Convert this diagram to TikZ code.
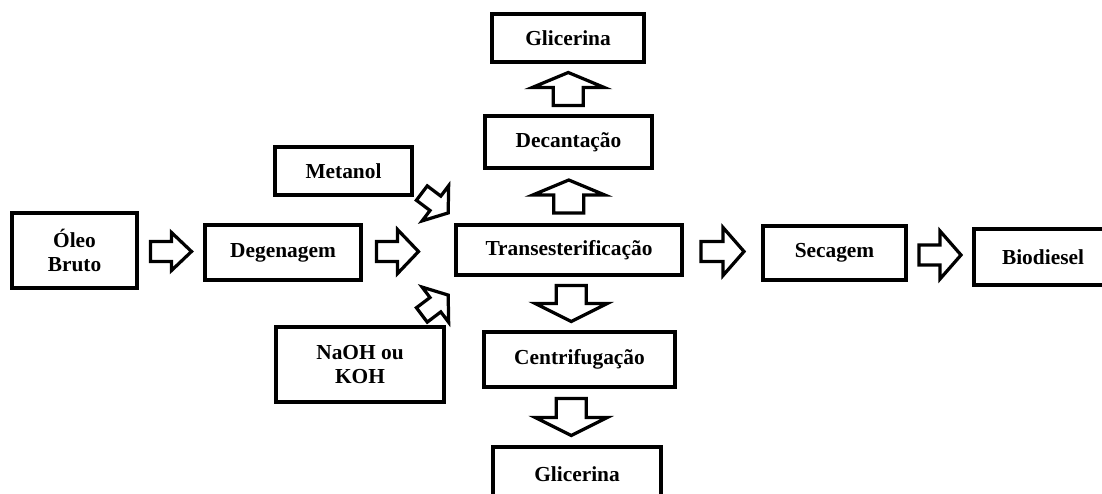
\documentclass[tikz,border=0pt]{standalone}
\usepackage{fontspec}
\setmainfont{Liberation Serif}
\usepackage{tikz}
\usetikzlibrary{calc}

\tikzset{
  box/.style={draw,line width=2.4pt,align=center,inner sep=2pt,
    font=\bfseries\fontsize{15.2}{17.6}\selectfont},
  arrowline/.style={draw,line width=2.3pt,fill=white},
  pics/blockarrow/.style n args={4}{code={
    \draw[arrowline] ({-#1/2},{-#3}) -- ({#1/2-#2},{-#3}) -- ({#1/2-#2},{-#4})
      -- ({#1/2},0) -- ({#1/2-#2},{#4}) -- ({#1/2-#2},{#3}) -- ({-#1/2},{#3}) -- cycle;
  }}
}

\begin{document}
\begin{tikzpicture}[x=0.025cm,y=-0.025cm]
  \useasboundingbox (0,0) rectangle (1102,493);

  %main line
  \node[box,minimum width=3.125cm,minimum height=1.875cm] (oleo) at (74.5,250.5) {Óleo\\Bruto};
  \node[box,minimum width=3.9cm,minimum height=1.375cm] (deg) at (283,252.5) {Degenagem};
  \node[box,minimum width=5.65cm,minimum height=1.25cm] (trans) at (569,250) {Transesterificação};
  \node[box,minimum width=3.575cm,minimum height=1.35cm] (sec) at (834.5,253) {Secagem};
  \node[box,minimum width=3.45cm,minimum height=1.4cm] (bio) at (1043,257) {Biodiesel};

  %inputs
  \node[box,minimum width=3.425cm,minimum height=1.2cm] (met) at (343.5,171) {Metanol};
  \node[box,minimum width=4.2cm,minimum height=1.875cm] (naoh) at (360,364.5) {NaOH ou\\KOH};

  %top
  \node[box,minimum width=4.175cm,minimum height=1.3cm] (dec) at (568.5,142) {Decantação};
  \node[box,minimum width=3.8cm,minimum height=1.2cm] (glic1) at (568,38) {Glicerina};

  %bottom
  \node[box,minimum width=4.775cm,minimum height=1.375cm] (cent) at (579.5,359.5) {Centrifugação};
  \node[box,minimum width=4.2cm,minimum height=1.375cm] (glic2) at (577,474.5) {Glicerina};

  %arrows
  \pic at ($(oleo.east)!0.5!(deg.west)$) {blockarrow={41}{20}{10}{19}};
  \pic at ($(deg.east)!0.38!(trans.west)$) {blockarrow={42}{21}{10}{22}};
  \pic at ($(trans.east)!0.5!(sec.west)$) {blockarrow={43}{21}{10}{24}};
  \pic at ($(sec.east)!0.5!(bio.west)$) {blockarrow={42}{21}{10}{24}};
  \pic[rotate=90] at ($(trans.north)!0.5!(dec.south)$) {blockarrow={33}{15}{15}{36}};
  \pic[rotate=90] at ($(dec.north)!0.5!(glic1.south)$) {blockarrow={33}{15}{15}{36}};
  \pic[rotate=-90] at ($(trans.south)!0.5!(cent.north)+(-3,0)$) {blockarrow={36}{18}{15}{36}};
  \pic[rotate=-90] at ($(cent.south)!0.5!(glic2.north)+(-7,0)$) {blockarrow={37}{18}{15}{36}};
  \coordinate (inmet) at (435,203);
  \coordinate (innaoh) at (435,305);
  \pic[rotate=-37] at (inmet) {blockarrow={33}{16}{9}{22}};
  \pic[rotate=37] at (innaoh) {blockarrow={33}{16}{9}{22}};
\end{tikzpicture}
\end{document}
